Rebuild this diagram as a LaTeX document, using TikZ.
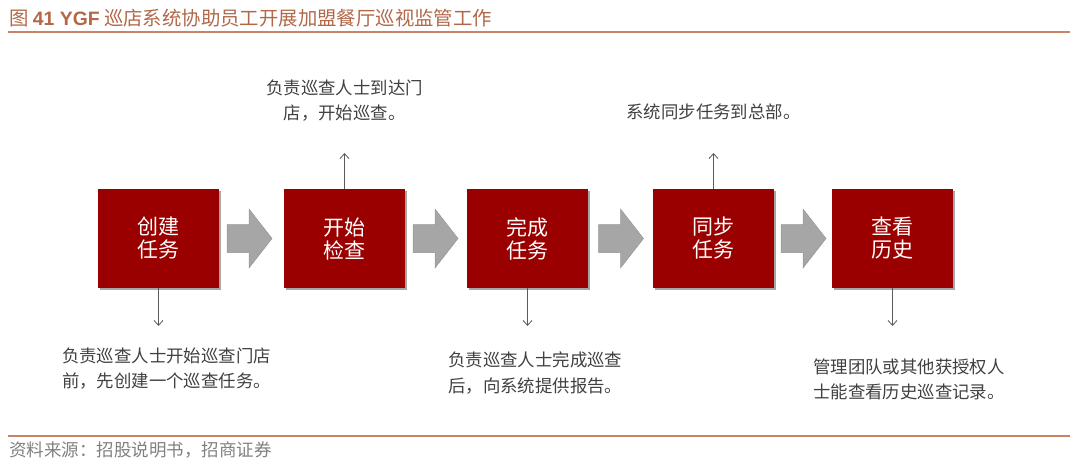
\documentclass[tikz,border=0pt]{standalone}
\usepackage{fontspec}
\setmainfont{Noto Sans CJK SC}
\newfontfamily\latinb{Liberation Sans}
\usetikzlibrary{arrows.meta,shadows,calc}
\definecolor{boxred}{RGB}{155,0,0}
\definecolor{titlec}{RGB}{178,104,72}
\definecolor{rulec}{RGB}{200,132,102}
\definecolor{arrgray}{RGB}{166,166,166}
\definecolor{arredge}{RGB}{150,150,150}
\definecolor{connc}{RGB}{90,90,90}
\definecolor{txtc}{RGB}{64,64,64}
\definecolor{footc}{RGB}{128,128,128}
\tikzset{
  stepbox/.style={fill=boxred, minimum width=121pt, minimum height=99pt, inner sep=0pt,
    text=white, align=center, font=\fontsize{21}{23}\selectfont,
    drop shadow={shadow xshift=1.5pt, shadow yshift=-1.5pt, opacity=0.35, fill=black}},
  grayarrow/.style={fill=arrgray, draw=arredge, line width=0.5pt, line join=miter},
  conn/.style={draw=connc, line width=0.8pt, -{Straight Barb[length=5pt,width=9pt]}},
  note/.style={text=txtc, font=\fontsize{17.4}{25.5}\selectfont, inner sep=0pt},
  rulel/.style={draw=rulec, line width=1.6pt}
}
% block arrow centred on a named coordinate: length 45, shaft 28, head 59 high, head 23 long
\newcommand\blockarrow[1]{%
  \draw[grayarrow] ($(#1)+(-22.5,-14)$) -- ($(#1)+(-0.5,-14)$) -- ($(#1)+(-0.5,-29.5)$)
    -- ($(#1)+(22.5,0)$) -- ($(#1)+(-0.5,29.5)$) -- ($(#1)+(-0.5,14)$)
    -- ($(#1)+(-22.5,14)$) -- cycle;}
\begin{document}
\begin{tikzpicture}[x=1pt,y=-1pt]
\useasboundingbox (0,0) rectangle (1080,469);
% title
\node[anchor=west, inner sep=0pt, text=titlec, font=\fontsize{19.4}{20}\selectfont] (title) at (9,18)
  {图 {\latinb\bfseries 41 YGF} 巡店系统协助员工开展加盟餐厅巡视监管工作};
\coordinate (r1a) at (8,32); \coordinate (r1b) at (1070,32);
\draw[rulel] (r1a) -- (r1b);
% boxes
\node[stepbox] (b1) at (158.5,238.5) {创建\\任务};
\node[stepbox] (b2) at (344.5,238.5) {开始\\检查};
\node[stepbox] (b3) at (527.5,238.5) {完成\\任务};
\node[stepbox] (b4) at (713.5,238.5) {同步\\任务};
\node[stepbox] (b5) at (892.5,238.5) {查看\\历史};
% gray arrows
\coordinate (a1) at ($(b1.east)!0.5!(b2.west)+(-2,0)$);
\coordinate (a2) at ($(b2.east)!0.5!(b3.west)+(-0.5,0)$);
\coordinate (a3) at ($(b3.east)!0.5!(b4.west)+(0.5,0)$);
\coordinate (a4) at ($(b4.east)!0.5!(b5.west)+(0.5,0)$);
\blockarrow{a1}\blockarrow{a2}\blockarrow{a3}\blockarrow{a4}
% connectors
\coordinate (u2) at (344.5,153);
\coordinate (u4) at (713.5,153);
\coordinate (d1) at (158.5,326);
\coordinate (d3) at (527.5,326);
\coordinate (d5) at (892.5,326);
\draw[conn] (b2.north) -- (u2);
\draw[conn] (b4.north) -- (u4);
\draw[conn] (b1.south) -- (d1);
\draw[conn] (b3.south) -- (d3);
\draw[conn] (b5.south) -- (d5);
% notes
\node[note, align=center] (n2) at (344.5,100.5) {负责巡查人士到达门\\店，开始巡查。};
\node[note, align=center] (n4) at (713.5,112) {系统同步任务到总部。};
\node[note, align=left, anchor=west] (n1) at (62,368.5) {负责巡查人士开始巡查门店\\前，先创建一个巡查任务。};
\node[note, align=left, anchor=west] (n3) at (448,373) {负责巡查人士完成巡查\\后，向系统提供报告。};
\node[note, align=left, anchor=west] (n5) at (813,379.5) {管理团队或其他获授权人\\士能查看历史巡查记录。};
% footer
\coordinate (r2a) at (8,436); \coordinate (r2b) at (1070,436);
\draw[rulel] (r2a) -- (r2b);
\node[anchor=west, inner sep=0pt, text=footc, font=\fontsize{17.5}{18}\selectfont] (src) at (9,450)
  {资料来源：招股说明书，招商证券};
\end{tikzpicture}
\end{document}
